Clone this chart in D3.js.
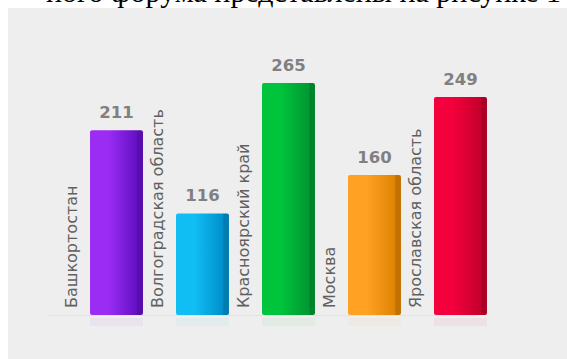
<!DOCTYPE html>
<html>
<head>
<meta charset="utf-8">
<script src="https://cdn.jsdelivr.net/npm/d3@7"></script>
<style>
  body { margin: 0; background: #fff; }
  svg { display: block; }
</style>
</head>
<body>
<svg id="chart"></svg>
<script>
const width = 567
const height = 359

const regions = ['Башкортостан', 'Волгоградская область', 'Красноярский край', 'Москва', 'Ярославская область']
const values = [211, 116, 265, 160, 249]
const lightColours = ['#9a2cf4', '#10bef4', '#00c43c', '#ffa224', '#f4003c']
const darkColours = ['#6410c4', '#0090cc', '#009832', '#e08404', '#c4002c']

const svg = d3.select('#chart')
    .attr('width', width)
    .attr('height', height)

// text of the page above the figure, cut off at the top
svg.append('text')
    .attr('x', 561)
    .attr('y', 2)
    .attr('text-anchor', 'end')
    .style('font-family', '"Liberation Serif", serif')
    .style('font-size', '30px')
    .attr('fill', '#000')
    .text('ного форума представлены на рисунке 1')

svg.append('rect')
    .attr('x', 8)
    .attr('y', 8)
    .attr('width', width - 8)
    .attr('height', height - 8)
    .attr('fill', '#eeeeee')

const x = d3.scaleBand()
    .domain(regions)
    .range([57, 520])
    .paddingInner(0.384)
    .paddingOuter(0.384)

const y = d3.scaleLinear()
    .domain([0, 265])
    .range([315, 83])

const defs = svg.append('defs')
regions.forEach((r, i) => {
    const g = defs.append('linearGradient')
        .attr('id', 'grad' + i)
        .attr('x1', '0%').attr('x2', '100%')
        .attr('y1', '0%').attr('y2', '0%')
    g.append('stop').attr('offset', '0%').attr('stop-color', lightColours[i])
    g.append('stop').attr('offset', '35%').attr('stop-color', lightColours[i])
    g.append('stop').attr('offset', '88%').attr('stop-color', darkColours[i])
    g.append('stop').attr('offset', '90%').attr('stop-color', d3.color(darkColours[i]).darker(0.4))
    g.append('stop').attr('offset', '100%').attr('stop-color', d3.color(darkColours[i]).darker(0.4))
})

// faint baseline
svg.append('line')
    .attr('x1', 47).attr('x2', 477)
    .attr('y1', y(0) + 0.5).attr('y2', y(0) + 0.5)
    .attr('stroke', '#e2e2e2')

// faint reflections under bars
svg.selectAll('.reflect')
    .data(regions)
    .join('rect')
    .attr('class', 'reflect')
    .attr('x', d => x(d))
    .attr('y', y(0) + 3)
    .attr('width', x.bandwidth())
    .attr('height', 8)
    .attr('fill', (d, i) => lightColours[i])
    .attr('opacity', 0.05)

svg.selectAll('.bar')
    .data(regions)
    .join('rect')
    .attr('class', 'bar')
    .attr('x', d => x(d))
    .attr('y', (d, i) => y(values[i]))
    .attr('width', x.bandwidth())
    .attr('height', (d, i) => y(0) - y(values[i]))
    .attr('rx', 2)
    .attr('fill', (d, i) => `url(#grad${i})`)

svg.selectAll('.value')
    .data(regions)
    .join('text')
    .attr('class', 'value')
    .attr('x', d => x(d) + x.bandwidth() / 2)
    .attr('y', (d, i) => y(values[i]) - 12)
    .attr('text-anchor', 'middle')
    .style('font-family', '"DejaVu Sans", sans-serif')
    .style('font-weight', 'bold')
    .style('font-size', '16.5px')
    .attr('fill', '#808080')
    .text((d, i) => values[i])

svg.selectAll('.label')
    .data(regions)
    .join('text')
    .attr('class', 'label')
    .attr('transform', d => `translate(${x(d) - 13}, 308) rotate(-90)`)
    .style('font-family', '"DejaVu Sans", sans-serif')
    .style('font-size', '16px')
    .attr('fill', '#606060')
    .text(d => d)
</script>
</body>
</html>
